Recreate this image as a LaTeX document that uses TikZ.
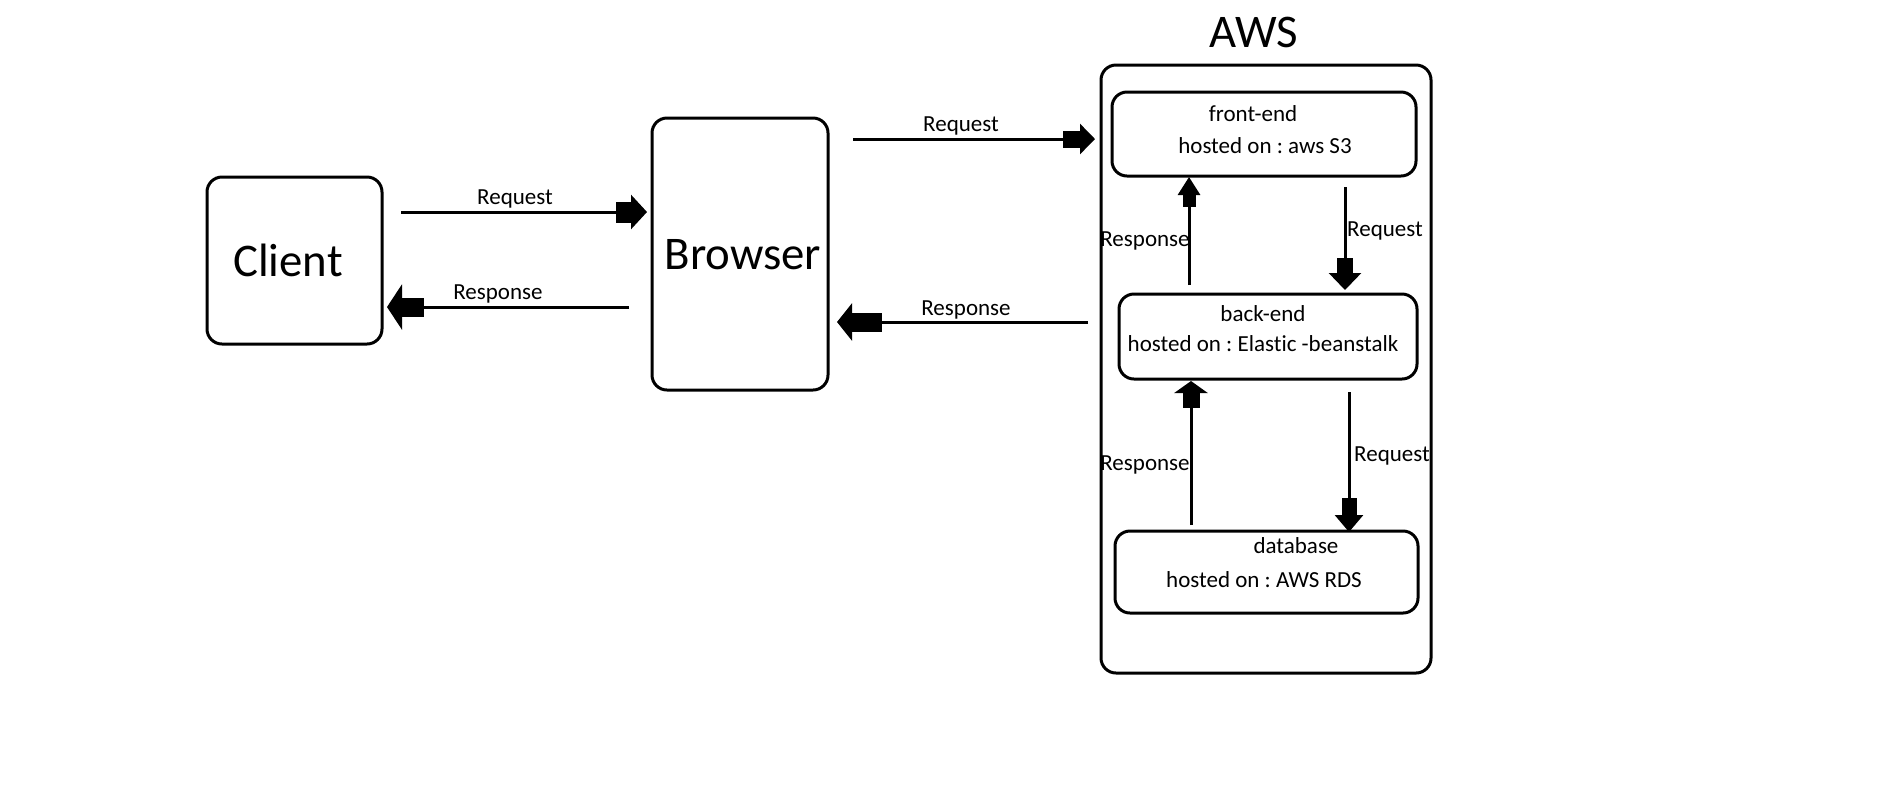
\documentclass[tikz,border=0pt]{standalone}
\usepackage{fontspec}
\setmainfont{Carlito}[Ligatures=NoCommon]
\usetikzlibrary{arrows.meta}
\frenchspacing
\begin{document}
\begin{tikzpicture}[x=0.5pt,y=-0.5pt,
  box/.style={draw=black, line width=1.5pt, rounded corners=7.5pt, inner sep=0pt},
  big/.style={font=\fontsize{23.4}{28}\selectfont, inner sep=0pt},
  small/.style={font=\fontsize{11.5}{13}\selectfont, inner sep=0pt, anchor=base},
  shaft/.style={draw=black, line width=1.5pt},
  hd/.style n args={4}{-{Rectangle[length=#1,width=#2]Triangle[length=#3,width=#4]}}
]
\fill[white] (0,0) rectangle (1878,800);
\useasboundingbox (0,0) rectangle (1878,800);

% boxes
\node[box, minimum width=87.5pt, minimum height=83.5pt] (client) at (294.5,260.5) {};
\node[big] (clienttxt) at (288,260) {Client};
\node[box, minimum width=88pt, minimum height=136pt] (browser) at (740,254) {};
\node[big] (browsertxt) at (743,255) {Browser};
\node[box, minimum width=165pt, minimum height=304pt] (aws) at (1266,369) {};
\node[big, anchor=base] (awstxt) at (1254,47) {AWS};

\node[box, minimum width=152pt, minimum height=42pt] (front) at (1264,134) {};
\node[small] (fronttitle) at (1253,121) {front-end};
\node[small] (fronthost) at (1265,153) {hosted on : aws S3};

\node[box, minimum width=149pt, minimum height=42.5pt] (back) at (1268,336.5) {};
\node[small] (backtitle) at (1263,321) {back-end};
\node[small] (backhost) at (1263,351) {hosted on : Elastic -beanstalk};

\node[box, minimum width=151.5pt, minimum height=41pt] (db) at (1266.5,572) {};
\node[small] (dbtitle) at (1296,553) {database};
\node[small] (dbhost) at (1264,587) {hosted on : AWS RDS};

% connector end points
\coordinate (cb-s) at (401,212);  \coordinate (cb-e) at (647,212);
\coordinate (bc-s) at (629,307);  \coordinate (bc-e) at (387,307);
\coordinate (bf-s) at (853,139);  \coordinate (bf-e) at (1095,139);
\coordinate (kb-s) at (1088,322); \coordinate (kb-e) at (837,322);
\coordinate (fk-s) at (1345,187); \coordinate (fk-e) at (1345,290);
\coordinate (kf-s) at (1189,285); \coordinate (kf-e) at (1189,177);
\coordinate (kd-s) at (1349,392); \coordinate (kd-e) at (1349,532);
\coordinate (dk-s) at (1191,525); \coordinate (dk-e) at (1191,381);

% connectors
\draw[shaft, hd={7.5pt}{10.5pt}{8pt}{17pt}] (cb-s) -- (cb-e);
\draw[shaft, hd={11pt}{9.5pt}{7.5pt}{22.5pt}] (bc-s) -- (bc-e);
\draw[shaft, hd={8.5pt}{8.5pt}{7.5pt}{15pt}] (bf-s) -- (bf-e);
\draw[shaft, hd={15pt}{9.5pt}{7.5pt}{18.5pt}] (kb-s) -- (kb-e);
\draw[shaft, hd={7.5pt}{8pt}{8.5pt}{16pt}] (fk-s) -- (fk-e);
\draw[shaft, hd={6pt}{6.5pt}{9pt}{11pt}] (kf-s) -- (kf-e);
\draw[shaft, hd={8.5pt}{7.5pt}{8.5pt}{14pt}] (kd-s) -- (kd-e);
\draw[shaft, hd={7.5pt}{8.5pt}{6pt}{16.5pt}] (dk-s) -- (dk-e);

% connector labels
\node[small] (lcb) at (515,204) {Request};
\node[small] (lbc) at (498,299) {Response};
\node[small] (lbf) at (961,131) {Request};
\node[small] (lkb) at (966,315) {Response};
\node[small] (lfk) at (1385,236) {Request};
\node[small] (lkf) at (1145,246) {Response};
\node[small] (lkd) at (1392,461) {Request};
\node[small] (ldk) at (1145,470) {Response};
\end{tikzpicture}
\end{document}
